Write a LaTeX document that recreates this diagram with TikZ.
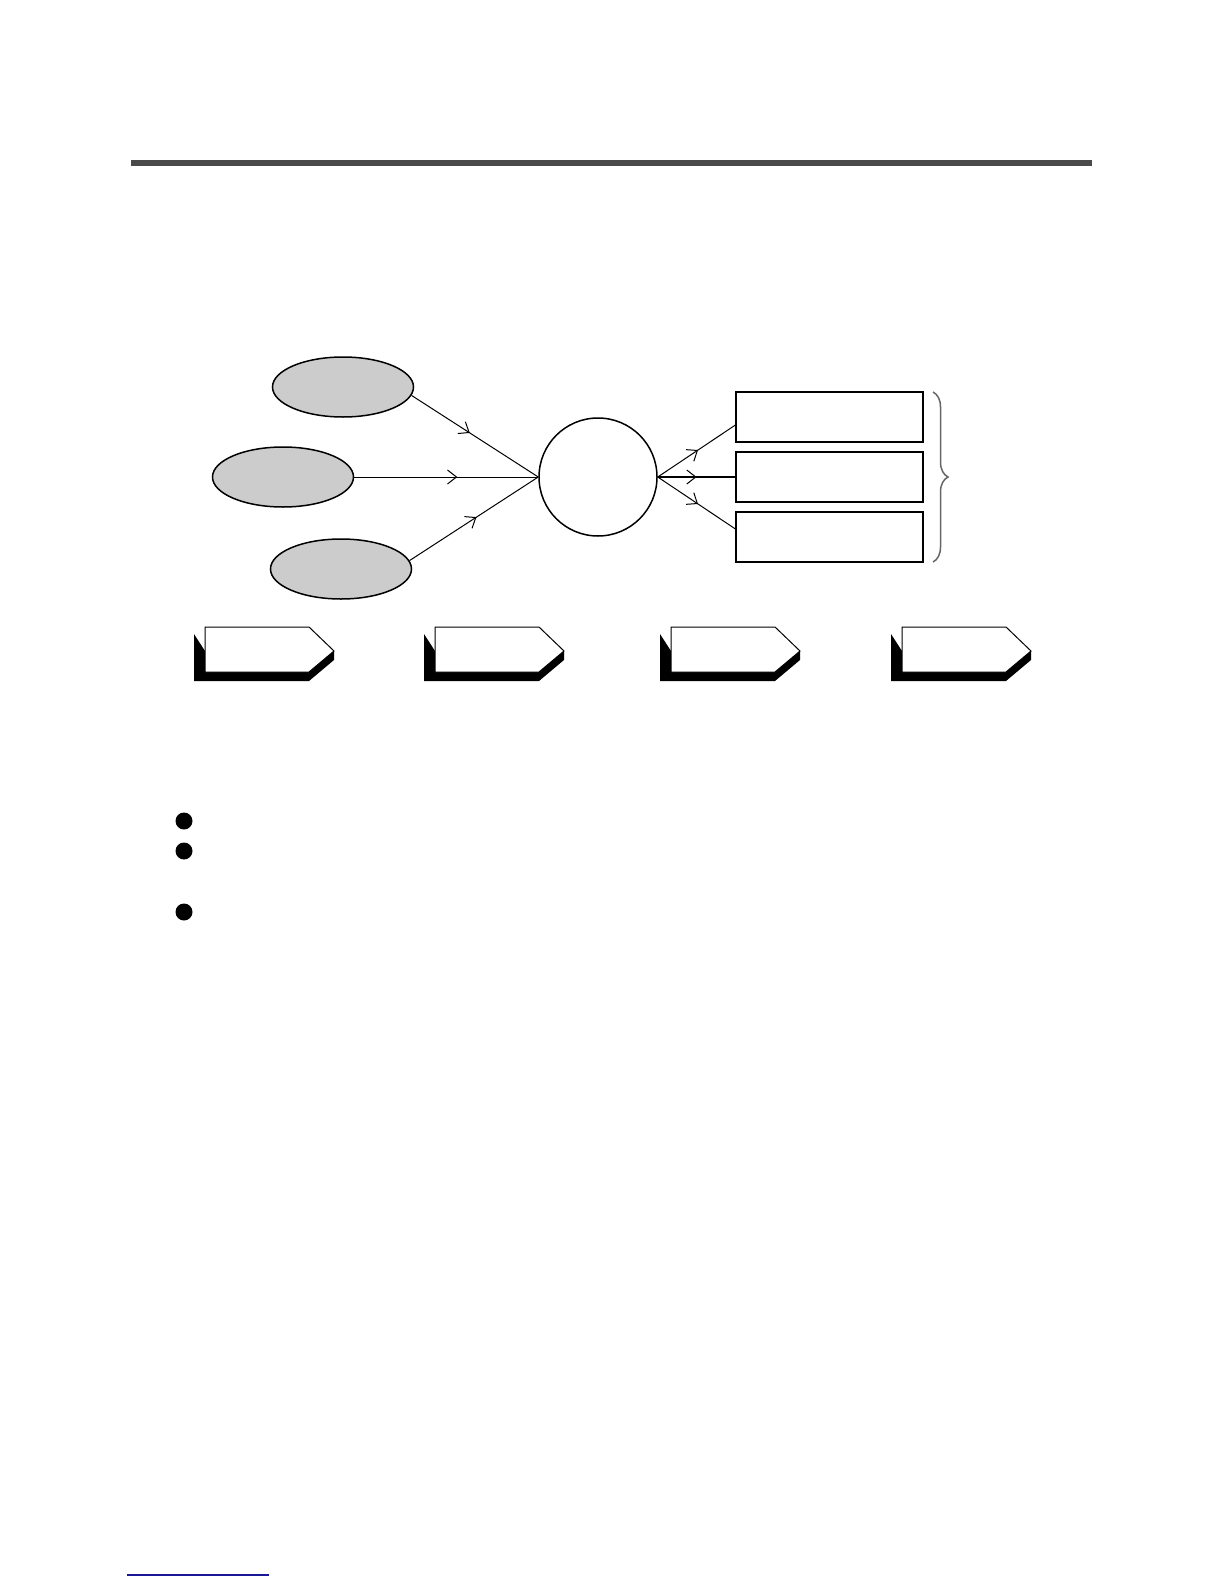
\documentclass[tikz,border=0pt]{standalone}
\usetikzlibrary{shapes.geometric,decorations.markings,decorations.pathreplacing,arrows.meta}
\definecolor{rulegray}{RGB}{74,74,74}
\definecolor{linkblue}{RGB}{24,24,150}
\tikzset{
	midarrow/.style={postaction={decorate},decoration={markings,
		mark=at position #1 with {\arrow{Straight Barb[length=9pt,width=14pt,line width=1pt]}}}}
}
\begin{document}
\begin{tikzpicture}[x=1pt,y=-1pt]
			\tikzstyle{cause}  = [ellipse, minimum width=141pt, minimum height=60pt, inner sep=0pt, draw=black, line width=1.5pt, fill=black!20]
			\tikzstyle{centre} = [circle, minimum size=118pt, inner sep=0pt, draw=black, line width=1.5pt, fill=white]
			\tikzstyle{effect} = [rectangle, minimum width=187pt, minimum height=50pt, inner sep=0pt, draw=black, line width=1.2pt]

			\useasboundingbox (0,0) rectangle (1224,1584);
			\fill[white] (0,0) rectangle (1224,1584);

			\draw[rulegray, line width=6pt] (131,163) -- (1092,163);

			\node[cause] (e1) at (343,387) {};
			\node[cause] (e2) at (283,477) {};
			\node[cause] (e3) at (341,569) {};
			\node[centre] (c) at (598,477) {};

			\foreach \name/\y in {b1/417, b2/477, b3/537}
				\node[effect] (\name) at (829.5,\y) {};

			\draw[line width=1pt, midarrow=0.46] (e1.-7) -- (c.west);
			\draw[line width=1pt, midarrow=0.56] (e2.east) -- (c.west);
			\draw[line width=1pt, midarrow=0.52] (e3.7) -- (c.west);

			\draw[line width=1pt, midarrow=0.52] (c.east) -- ([yshift=-8pt]b1.west);
			\draw[line width=2.5pt, midarrow=0.5] (c.east) -- (b2.west);
			\draw[line width=1pt, midarrow=0.52] (c.east) -- ([yshift=8pt]b3.west);

			\draw[black!60, line width=1.5pt, decorate, decoration={brace, amplitude=15pt}] (933,392) -- (933,562);

			% stage arrows with shadow
			\foreach \x [count=\i] in {205,435,671,902} {
				\fill[black] (\x-11,634) -- (\x-11,681) -- (\x+104,681) -- (\x+129,660) -- (\x+129,651) -- (\x,651) -- cycle;
				\draw[fill=white, line width=1pt] (\x,627) -- (\x+104,627) -- (\x+129,651) -- (\x+104,672) -- (\x,672) -- cycle;
				\coordinate (s\i) at (\x+64.5,649.5);
			}

			\foreach \y [count=\i] in {821,851,912}
				\fill[black] (184,\y) circle (8.5pt);

			\draw[linkblue, line width=1.5pt] (127,1575) -- (269,1575);
\end{tikzpicture}
\end{document}
